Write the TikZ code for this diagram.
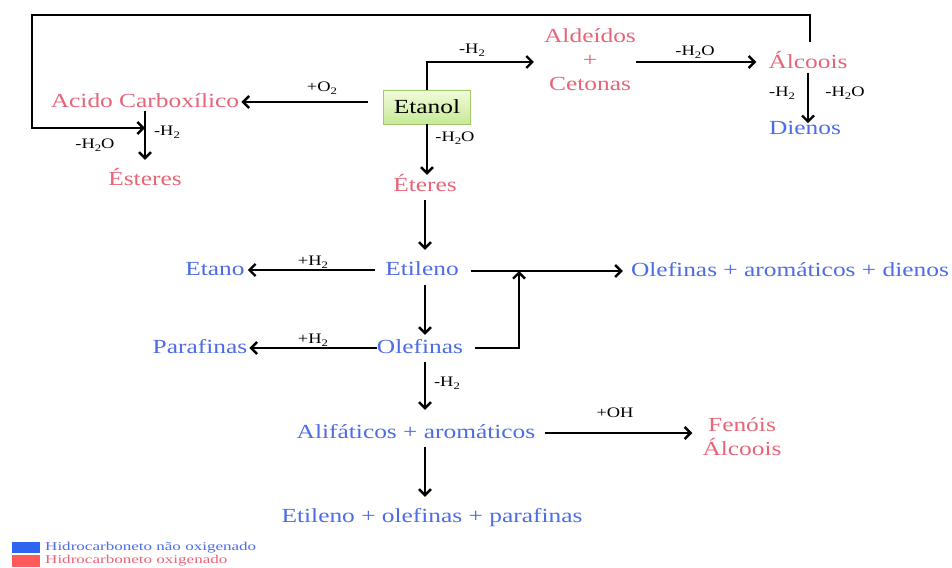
\documentclass[tikz,border=0pt]{standalone}
\usepackage{fontspec}
\setmainfont[FakeStretch=1.27]{Liberation Serif}
\newfontfamily\legfont[FakeStretch=1.42]{Liberation Serif}
\usetikzlibrary{arrows.meta,calc}
\definecolor{hcblue}{RGB}{78,108,228}
\definecolor{hcred}{RGB}{232,100,120}
\definecolor{legblue}{RGB}{45,100,240}
\definecolor{legred}{RGB}{255,90,90}
\definecolor{boxtop}{RGB}{242,251,220}
\definecolor{boxbot}{RGB}{198,234,150}
\definecolor{boxedge}{RGB}{160,200,110}
\newcommand\lowsub[1]{\raisebox{-0.45ex}{\fontsize{10}{11}\selectfont #1}}
\begin{document}
\begin{tikzpicture}[x=1pt,y=-1pt,
  txt/.style={inner sep=0pt,text height=14pt,text depth=4pt,font=\fontsize{20}{24}\selectfont},
  bl/.style={txt,text=hcblue},
  rd/.style={txt,text=hcred},
  lab/.style={inner sep=0pt,font=\fontsize{14.5}{17}\selectfont,text=black},
  ln/.style={line width=2.4pt,black},
  arr/.style={ln,-{Straight Barb[length=6pt,width=12pt]}},
  etbox/.style={draw=boxedge,line width=0.8pt,top color=boxtop,bottom color=boxbot,minimum width=87pt,minimum height=34pt,inner sep=0pt,font=\fontsize{20}{24}\selectfont},
  legtxt/.style={inner sep=0pt,anchor=west,font=\legfont\fontsize{12}{13}\selectfont}
]
\useasboundingbox (0,0) rectangle (952,567);
\fill[white] (0,0) rectangle (952,567);

% nodes
\node[etbox] (etanol) at (427,107) {Etanol};
\node[rd] (acido) at (145,102) {Acido Carboxílico};
\node[rd] (esteres) at (145,180) {Ésteres};
\node[rd] (ald) at (590,38) {Aldeídos};
\node[rd] (plus) at (590,62) {+};
\node[rd] (cet) at (590,86) {Cetonas};
\node[rd] (alc1) at (808,64) {Álcoois};
\node[bl] (dienos) at (805,129) {Dienos};
\node[rd] (eteres) at (425,186) {Éteres};
\node[bl] (etileno) at (422,270) {Etileno};
\node[bl] (etano) at (215,270) {Etano};
\node[bl] (olefall) at (790,271) {Olefinas + aromáticos + dienos};
\node[bl] (olefinas) at (420,348) {Olefinas};
\node[bl] (parafinas) at (200,348) {Parafinas};
\node[bl] (alif) at (416,433) {Alifáticos + aromáticos};
\node[rd] (fen) at (742,426) {Fenóis};
\node[rd] (alc2) at (742,450) {Álcoois};
\node[bl] (final) at (432,517) {Etileno + olefinas + parafinas};

% labels
\node[lab] (l1) at (322,88) {+O\lowsub{2}};
\node[lab] (l2) at (167,132) {-H\lowsub{2}};
\node[lab] (l3) at (95,145) {-H\lowsub{2}O};
\node[lab] (l4) at (472,50) {-H\lowsub{2}};
\node[lab] (l5) at (695,52) {-H\lowsub{2}O};
\node[lab] (l6) at (782,93) {-H\lowsub{2}};
\node[lab] (l7) at (845,93) {-H\lowsub{2}O};
\node[lab] (l8) at (455,138) {-H\lowsub{2}O};
\node[lab] (l9) at (313,262) {+H\lowsub{2}};
\node[lab] (l10) at (313,340) {+H\lowsub{2}};
\node[lab] (l11) at (447,383) {-H\lowsub{2}};
\node[lab] (l12) at (615,413) {+OH};

% coordinates
\coordinate (loopend) at (acido.south |- 0,128);
\coordinate (jn) at (519,271);

% connectors
\draw[arr] ($(alc1.center)+(2,-22)$) |- (32,15) |- (loopend);
\draw[arr,shorten <=15pt,shorten >=2pt] (etanol.west |- acido.east) -- (acido.east);
\draw[arr,shorten >=11pt] (acido.south) -- (esteres.north);
\draw[arr,shorten >=10pt] (etanol.north) |- (ald.west |- plus.west);
\draw[arr,shorten >=12pt] (ald.east |- plus.east) -- (alc1.west |- plus.east);
\draw[arr] (alc1.south) -- ++(0,50);
\draw[arr,shorten >=2pt] (etanol.south) -- (eteres.north -| etanol.south);
\draw[arr,shorten <=5pt,shorten >=11pt] (eteres.south) -- (etileno.north -| eteres.south);
\draw[arr,shorten <=10pt,shorten >=3pt] (etileno.west) -- (etano.east);
\draw[arr,shorten <=12pt,shorten >=8pt] (etileno.east |- olefall.west) -- (olefall.west);
\draw[arr,shorten <=6pt,shorten >=4pt] (etileno.south -| eteres.south) -- (olefinas.north -| eteres.south);
\draw[arr,shorten <=12pt] (olefinas.east) -| (jn);
\draw[arr,shorten >=2pt] (olefinas.west) -- (parafinas.east);
\draw[arr,shorten <=5pt,shorten >=14pt] (olefinas.south -| eteres.south) -- (alif.north -| eteres.south);
\draw[arr,shorten <=9pt,shorten >=10pt] (alif.east) -- (alif.east -| alc2.west);
\draw[arr,shorten <=5pt,shorten >=11pt] (alif.south -| eteres.south) -- (final.north -| eteres.south);

% legend
\fill[legblue] (12,542) rectangle (40,553);
\fill[legred] (12,555) rectangle (40,567);
\node[legtxt,text=hcblue] (lg1) at (45,548) {Hidrocarboneto não oxigenado};
\node[legtxt,text=hcred] (lg2) at (45,561) {Hidrocarboneto oxigenado};
\end{tikzpicture}
\end{document}
